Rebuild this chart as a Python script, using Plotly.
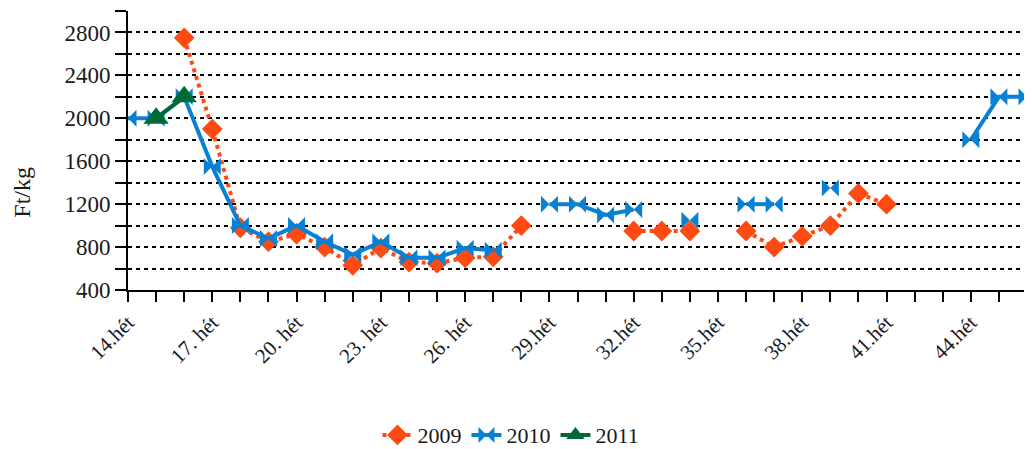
import plotly.graph_objects as go

weeks = list(range(14, 47))
tick_weeks = [14, 17, 20, 23, 26, 29, 32, 35, 38, 41, 44]
tick_labels = ["14.hét", "17. hét", "20. hét", "23. hét", "26. hét", "29.hét",
               "32.hét", "35.hét", "38.hét", "41.hét", "44.hét"]

# values per week 14..46 (None = missing)
y2009 = [None, None, 2750, 1900, 980, 850, 920, 800, 630, 790, 660, 650, 700, 710, 1000,
         None, None, None, 950, 950, 950, None, 950, 800, 900, 1000, 1300, 1200,
         None, None, None, None, None]
y2010 = [2000, 2000, 2200, 1550, 1000, 880, 1000, 850, 730, 850, 700, 700, 790, 770, None,
         1200, 1200, 1100, 1150, None, 1050, None, 1200, 1200, None, 1350, None, None,
         None, None, 1800, 2200, 2200]
y2011 = [None, 2000, 2200] + [None] * 30

idx = [w - 14 for w in weeks]
font_family = "Liberation Serif, Times New Roman, serif"
txt = "#1a1a1a"

fig = go.Figure()
fig.add_trace(go.Scatter(
    x=idx, y=y2009, name="2009", mode="lines+markers", connectgaps=False,
    line=dict(color="#FF4A12", width=4, dash="dot"),
    marker=dict(symbol="diamond", size=16, color="#FF4A12")))
fig.add_trace(go.Scatter(
    x=idx, y=y2010, name="2010", mode="lines+markers", connectgaps=False,
    line=dict(color="#0A80D2", width=4),
    marker=dict(symbol="bowtie", size=17, color="#0A80D2")))
fig.add_trace(go.Scatter(
    x=idx, y=y2011, name="2011", mode="lines+markers", connectgaps=False,
    line=dict(color="#006A35", width=4),
    marker=dict(symbol="triangle-up", size=22, color="#006A35")))

fig.add_annotation(
    text="Ft/kg", xref="paper", yref="paper", x=-0.118, y=0.352,
    xanchor="center", yanchor="middle", textangle=-90, showarrow=False,
    font=dict(family=font_family, size=24, color=txt))

fig.update_layout(
    width=1024, height=465,
    margin=dict(l=120, r=5, t=3, b=183),
    paper_bgcolor="white", plot_bgcolor="white",
    font=dict(family=font_family, size=21, color=txt),
    showlegend=True,
    legend=dict(orientation="h", x=0.426, xanchor="center", y=-0.52, yanchor="middle",
                font=dict(size=22), itemwidth=30),
    xaxis=dict(
        range=[0, 32], tickmode="array",
        tickvals=[w - 14 for w in tick_weeks], ticktext=tick_labels,
        tickangle=-45, showgrid=False, zeroline=False,
        showline=True, linecolor="black", linewidth=2,
        ticks="outside", ticklen=10, tickwidth=2, tickcolor="black",
        tickfont=dict(size=21),
        minor=dict(dtick=1, tick0=0, ticks="outside", ticklen=10, tickwidth=2,
                   tickcolor="black", showgrid=False),
    ),
    yaxis=dict(
        range=[400, 3000], tickmode="array",
        tickvals=[400, 800, 1200, 1600, 2000, 2400, 2800],
        showgrid=True, gridcolor="black", gridwidth=2, griddash="4px,4px",
        zeroline=False, showline=True, linecolor="black", linewidth=2,
        ticks="outside", ticklen=11, tickwidth=2, tickcolor="black",
        tickfont=dict(size=23),
        minor=dict(dtick=200, tick0=0, ticks="outside", ticklen=11, tickwidth=2,
                   tickcolor="black", showgrid=True, gridcolor="black",
                   gridwidth=2, griddash="4px,4px"),
    ),
)

fig.write_html("out.html")
